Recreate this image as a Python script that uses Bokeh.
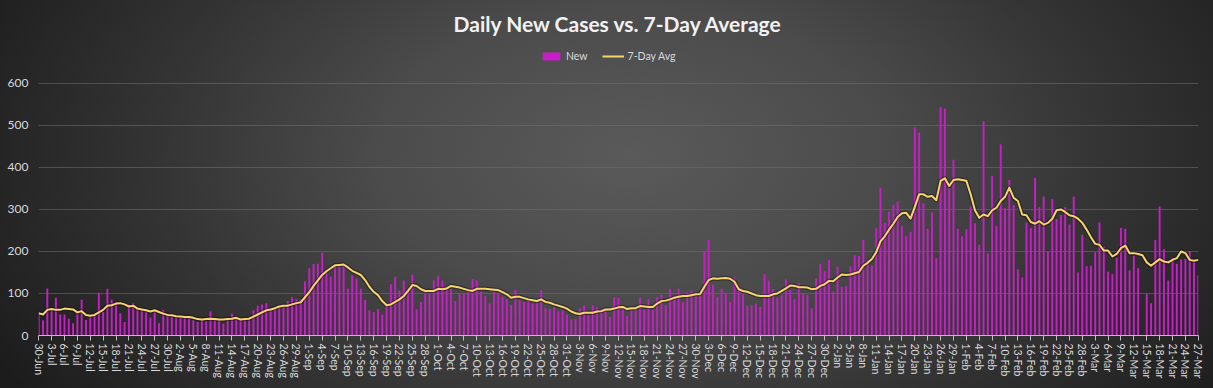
import pandas as pd
from bokeh.plotting import figure
from bokeh.models import (ColumnDataSource, Range1d, FixedTicker, Legend, LegendItem,
                          GlobalInlineStyleSheet)
from bokeh.embed import file_html
from bokeh.resources import INLINE

# ---------------- data ----------------
start_date = "2020-06-30"

new_cases = [
    52, 36, 112, 60, 90, 50, 50, 40, 29, 52,
    85, 37, 45, 50, 102, 56, 111, 85, 78, 53,
    32, 74, 77, 65, 60, 56, 42, 59, 30, 61,
    48, 45, 42, 42, 44, 42, 36, 32, 38, 34,
    57, 40, 37, 28, 37, 52, 44, 36, 37, 44,
    60, 71, 74, 77, 60, 63, 67, 71, 82, 91,
    87, 87, 129, 160, 170, 171, 197, 155, 140, 168,
    165, 167, 111, 143, 135, 111, 85, 60, 56, 63,
    50, 78, 122, 140, 107, 131, 110, 145, 62, 80,
    103, 100, 131, 142, 130, 110, 110, 82, 100, 100,
    105, 134, 131, 104, 94, 76, 105, 100, 93, 86,
    72, 108, 84, 80, 84, 76, 78, 107, 65, 63,
    67, 58, 60, 50, 38, 40, 65, 72, 48, 72,
    67, 62, 60, 44, 91, 90, 63, 47, 63, 65,
    90, 62, 86, 61, 92, 97, 72, 111, 93, 111,
    79, 103, 107, 95, 100, 200, 227, 121, 92, 111,
    99, 80, 138, 108, 99, 71, 72, 76, 68, 146,
    131, 110, 90, 97, 133, 108, 86, 125, 100, 97,
    65, 135, 171, 153, 180, 105, 164, 116, 117, 164,
    191, 189, 227, 180, 166, 255, 351, 268, 295, 311,
    319, 260, 236, 247, 495, 483, 315, 254, 293, 184,
    544, 540, 350, 418, 254, 236, 253, 307, 267, 216,
    510, 196, 380, 260, 455, 303, 370, 311, 157, 138,
    269, 256, 375, 305, 331, 200, 325, 277, 287, 305,
    264, 331, 150, 239, 165, 166, 198, 269, 211, 152,
    146, 185, 256, 254, 155, 190, 160, 0, 99, 77,
    227, 307, 205, 131, 185, 171, 181, 182, 201, 175,
    143,
]

avg_7day = [
    53, 50, 61, 63, 61, 61, 64, 63, 62, 55,
    58, 49, 47, 49, 55, 61, 71, 72, 76, 77,
    74, 69, 71, 64, 62, 60, 57, 60, 56, 52,
    49, 48, 46, 45, 44, 44, 42, 39, 38, 39,
    40, 39, 38, 38, 39, 40, 42, 38, 39, 40,
    45, 50, 55, 60, 62, 65, 69, 71, 71, 74,
    77, 79, 91, 103, 118, 131, 144, 153, 160, 167,
    168, 169, 162, 154, 149, 144, 132, 116, 104, 96,
    82, 72, 74, 80, 86, 94, 106, 120, 118, 110,
    106, 106, 106, 111, 110, 112, 118, 116, 114, 111,
    108, 106, 111, 111, 111, 110, 109, 108, 103, 98,
    90, 92, 92, 89, 86, 84, 82, 86, 80, 78,
    74, 71, 68, 64, 57, 53, 51, 54, 54, 54,
    57, 58, 62, 62, 64, 67, 68, 63, 65, 65,
    70, 69, 68, 68, 76, 82, 83, 86, 90, 92,
    94, 94, 96, 98, 99, 116, 132, 136, 135, 136,
    137, 135, 128, 110, 106, 104, 100, 96, 94, 94,
    94, 98, 100, 106, 112, 119, 118, 115, 115, 114,
    110, 111, 118, 122, 130, 129, 138, 145, 144, 145,
    148, 151, 166, 173, 182, 198, 224, 236, 252, 266,
    282, 291, 292, 278, 306, 336, 336, 330, 332, 322,
    368, 374, 356, 370, 372, 370, 368, 336, 298, 280,
    288, 284, 298, 304, 320, 330, 352, 328, 320, 288,
    286, 270, 266, 272, 264, 268, 278, 298, 300, 294,
    286, 284, 278, 268, 252, 234, 218, 216, 202, 202,
    188, 194, 208, 214, 196, 196, 194, 191, 174, 166,
    174, 182, 176, 174, 180, 184, 200, 196, 180, 178,
    180,
]

y_ticks = [0, 100, 200, 300, 400, 500, 600]
label_step = 3

# ---------------- derived categories ----------------
dates = pd.date_range(start_date, periods=len(new_cases), freq="D")
date_labels = [f"{d.day}-{d.strftime('%b')}" for d in dates]
idx = list(range(len(new_cases)))
tick_idx = idx[::label_step]

src = ColumnDataSource(dict(x=idx, new=new_cases, avg=avg_7day, label=date_labels))

FONT = "Lato"
TXT = "#d9d9d9"

# Plot area: 600 gridline at y=83, 0 at y=335 -> frame extended up to y=40
Y_TOP = 702

p = figure(
    width=1213, height=388, output_backend="svg", toolbar_location=None,
    x_range=Range1d(-0.05, len(new_cases) - 1 + 0.05), y_range=Range1d(0, Y_TOP),
    min_border_left=38, min_border_right=15, min_border_top=40, min_border_bottom=53,
    background_fill_alpha=0, border_fill_alpha=0, outline_line_color=None,
)

p.styles = {
    "background": "radial-gradient(ellipse 60% 110% at 52% 40%, #5a5a5a 0%, #4b4b4b 35%, "
                  "#343434 65%, #232323 90%, #1c1c1c 100%)"
}
p.stylesheets = [GlobalInlineStyleSheet(
    css="html, body { margin: 0 !important; padding: 0 !important; "
        "background: #1f1f1f; overflow: hidden; }")]

# title
p.title.text = "Daily New Cases vs. 7-Day Average"
p.title.align = "center"
p.title.text_font = FONT
p.title.text_font_size = "21px"
p.title.text_font_style = "bold"
p.title.text_color = "#f2f2f2"
p.title.offset = 6

# bars
bars = p.vbar(x="x", top="new", width=0.45, source=src,
              fill_color="#c81ec8", line_color=None)
# line with a soft shadow
p.line(x="x", y="avg", source=src, line_color="black", line_alpha=0.35,
       line_width=4.5, line_join="round")
avg_line = p.line(x="x", y="avg", source=src, line_color="#f7d46c",
                  line_width=2, line_join="round")

# legend (inside the extended top strip of the plot area)
legend = Legend(
    items=[LegendItem(label="New", renderers=[bars]),
           LegendItem(label="7-Day Avg", renderers=[avg_line])],
    orientation="horizontal", location=(502, 273),
    background_fill_alpha=0, border_line_alpha=0,
    label_text_font=FONT, label_text_font_size="10.5px", label_text_color=TXT,
    glyph_width=22, glyph_height=10, label_standoff=4, spacing=14,
    padding=0, margin=0, label_height=10,
)
p.add_layout(legend, "center")

# axes
xa = p.xaxis[0]
xa.ticker = FixedTicker(ticks=tick_idx)
xa.major_label_overrides = {i: date_labels[i] for i in tick_idx}
xa.major_label_orientation = "vertical"
xa.major_label_text_font = FONT
xa.major_label_text_font_size = "10.5px"
xa.major_label_text_color = TXT
xa.axis_line_color = "#bfbfbf"
xa.major_tick_line_color = "#bfbfbf"
xa.major_tick_out = 5
xa.major_tick_in = 0
xa.minor_tick_line_color = None
xa.major_label_standoff = 3

ya = p.yaxis[0]
ya.ticker = FixedTicker(ticks=y_ticks)
ya.major_label_text_font = FONT
ya.major_label_text_font_size = "12px"
ya.major_label_text_color = TXT
ya.axis_line_color = None
ya.major_tick_line_color = None
ya.major_tick_out = 0
ya.major_tick_in = 0
ya.minor_tick_line_color = None
ya.major_label_standoff = 10

p.xgrid.visible = False
p.ygrid.ticker = FixedTicker(ticks=y_ticks)
p.ygrid.grid_line_color = "#707070"
p.ygrid.grid_line_alpha = 0.55

open("out.html", "w").write(file_html(p, INLINE, title="Daily New Cases vs. 7-Day Average"))
